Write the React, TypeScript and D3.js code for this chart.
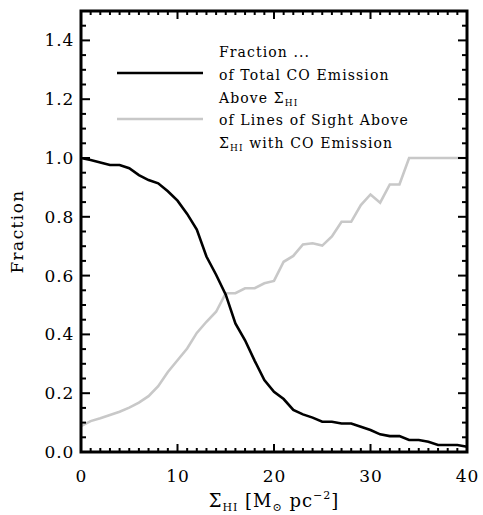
import React from "react";
import * as d3 from "d3";

const SIGMA_HI = [0, 1, 2, 3, 4, 5, 6, 7, 8, 9, 10, 11, 12, 13, 14, 15, 16, 17, 18, 19, 20, 21, 22, 23, 24, 25, 26, 27, 28, 29, 30, 31, 32, 33, 34, 35, 36, 37, 38, 39, 40];
const FRAC_CO_EMISSION = [1.0, 0.993, 0.985, 0.976, 0.976, 0.965, 0.942, 0.925, 0.914, 0.887, 0.855, 0.81, 0.757, 0.665, 0.603, 0.535, 0.437, 0.38, 0.31, 0.245, 0.205, 0.18, 0.143, 0.128, 0.117, 0.103, 0.103, 0.097, 0.097, 0.086, 0.075, 0.06, 0.054, 0.054, 0.041, 0.041, 0.035, 0.024, 0.024, 0.024, 0.018];
const FRAC_LOS_WITH_CO = [0.088, 0.105, 0.115, 0.126, 0.137, 0.151, 0.168, 0.19, 0.224, 0.272, 0.312, 0.352, 0.405, 0.443, 0.477, 0.54, 0.54, 0.557, 0.557, 0.574, 0.582, 0.647, 0.667, 0.706, 0.71, 0.702, 0.733, 0.783, 0.783, 0.84, 0.876, 0.848, 0.91, 0.91, 1.0, 1.0, 1.0, 1.0, 1.0, 1.0, 1.0];
const X_TICKS = [0, 10, 20, 30, 40];
const Y_TICKS = [0, 0.2, 0.4, 0.6, 0.8, 1.0, 1.2, 1.4];

const FONT = "'DejaVu Serif', serif";

export default function App() {
  const W = 483, H = 515;
  const x = d3.scaleLinear().domain([0, 40]).range([81, 467]);
  const y = d3.scaleLinear().domain([0, 1.5]).range([452, 11]);
  const [x0, x1] = x.range();
  const [y0, y1] = y.range();

  const xMinor = d3.range(0, 41, 1);
  const yMinor = d3.range(0, 1.5001, 0.05);

  const line = d3.line<number>().x((_, i) => x(SIGMA_HI[i])).y((d) => y(d));

  const MAJ = 8, MIN = 4;

  return (
    <svg width={W} height={H} style={{ position: "absolute", left: 0, top: 0, background: "#fff" }}>
      <rect x={0} y={0} width={W} height={H} fill="#fff" />
      {/* data lines */}
      <path d={line(FRAC_LOS_WITH_CO) || ""} fill="none" stroke="#c8c8c8" strokeWidth={2.6} strokeLinejoin="miter" />
      <path d={line(FRAC_CO_EMISSION) || ""} fill="none" stroke="#000" strokeWidth={2.6} strokeLinejoin="miter" />

      {/* ticks */}
      <g stroke="#000" strokeWidth={2}>
        {xMinor.map((v) => {
          const major = X_TICKS.includes(v);
          const L = major ? MAJ : MIN;
          return (
            <g key={"x" + v}>
              <line x1={x(v)} x2={x(v)} y1={y0} y2={y0 - L} />
              <line x1={x(v)} x2={x(v)} y1={y1} y2={y1 + L} />
            </g>
          );
        })}
        {yMinor.map((v, i) => {
          const major = i % 4 === 0;
          const L = major ? MAJ + 1 : MIN + 1;
          return (
            <g key={"y" + i}>
              <line x1={x0} x2={x0 + L} y1={y(v)} y2={y(v)} />
              <line x1={x1} x2={x1 - L} y1={y(v)} y2={y(v)} />
            </g>
          );
        })}
      </g>

      {/* frame */}
      <rect x={x0} y={y1} width={x1 - x0} height={y0 - y1} fill="none" stroke="#000" strokeWidth={3} />

      {/* tick labels */}
      <g fontFamily={FONT} fontSize={17} fill="#000" letterSpacing={0.8}>
        {X_TICKS.map((v) => (
          <text key={"xl" + v} x={x(v) + 0.4} y={482} textAnchor="middle">{v}</text>
        ))}
        {Y_TICKS.map((v) => (
          <text key={"yl" + v} x={74} y={y(v) + 6} textAnchor="end">{v.toFixed(1)}</text>
        ))}
      </g>

      {/* axis titles */}
      <text x={(x0 + x1) / 2} y={507} textAnchor="middle" fontFamily={FONT} fontSize={18} fill="#000" letterSpacing={1}>
        Σ<tspan fontSize={11} dy={4}>HI</tspan>
        <tspan dy={-4}> [M</tspan>
        <tspan fontSize={11} dy={4}>⊙</tspan>
        <tspan dy={-4}> pc</tspan>
        <tspan fontSize={11} dy={-8}>−2</tspan>
        <tspan dy={8}>]</tspan>
      </text>
      <text transform={`translate(23, ${(y0 + y1) / 2}) rotate(-90)`} textAnchor="middle" fontFamily={FONT} fontSize={17} fill="#000" letterSpacing={1.4}>
        Fraction
      </text>

      {/* legend */}
      <line x1={117} x2={203} y1={73} y2={73} stroke="#000" strokeWidth={2.6} />
      <line x1={117} x2={203} y1={119} y2={119} stroke="#c8c8c8" strokeWidth={2.6} />
      <g fontFamily={FONT} fontSize={14} fill="#000" letterSpacing={1.1}>
        <text x={219} y={57}>Fraction ...</text>
        <text x={219} y={80}>of Total CO Emission</text>
        <text x={219} y={103}>
          Above Σ<tspan fontSize={9} dy={3}>HI</tspan>
        </text>
        <text x={219} y={125}>of Lines of Sight Above</text>
        <text x={219} y={148}>
          Σ<tspan fontSize={9} dy={3}>HI</tspan>
          <tspan dy={-3}> with CO Emission</tspan>
        </text>
      </g>
    </svg>
  );
}
